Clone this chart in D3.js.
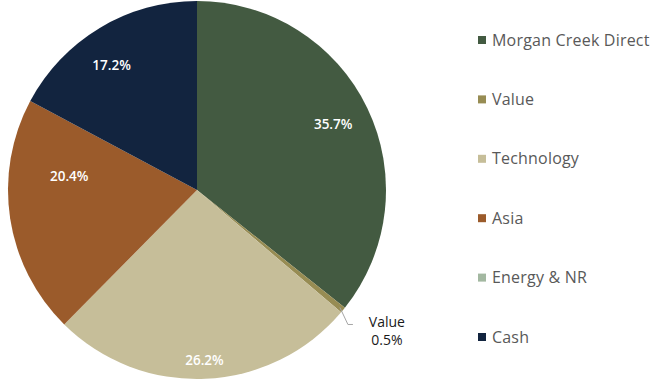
<!DOCTYPE html>
<html>
<head>
<meta charset="utf-8">
<script src="https://cdn.jsdelivr.net/npm/d3@7"></script>
<style>
  body { margin: 0; background: #fff; }
  text { font-family: "Open Sans", Lato, sans-serif; }
</style>
</head>
<body>
<div id="viz"></div>
<script>
const categories = ["Morgan Creek Direct", "Value", "Technology", "Asia", "Energy & NR", "Cash"];
const values = [35.7, 0.5, 26.2, 20.4, 0, 17.2];
const colors = ["#435a41", "#978c53", "#c6be99", "#9b5b2b", "#a3b8a1", "#12243f"];

const width = 665, height = 388;
const cx = 197, cy = 190, radius = 189;

const svg = d3.select("#viz").append("svg")
    .attr("width", width)
    .attr("height", height);

const data = categories.map((c, i) => ({ name: c, value: values[i], color: colors[i] }));

const pie = d3.pie().sort(null).value(d => d.value);
const arc = d3.arc().innerRadius(0).outerRadius(radius);
const arcs = pie(data);

const g = svg.append("g").attr("transform", `translate(${cx},${cy})`);

g.selectAll(".slice")
    .data(arcs.filter(d => d.data.value > 0))
    .join("path")
        .attr("class", "slice")
        .attr("d", arc)
        .attr("fill", d => d.data.color);

// label placement, roughly like excel's best fit
const labelRadius = { "Morgan Creek Direct": 0.8, "Technology": 0.9, "Asia": 0.68, "Cash": 0.8 };
const labelShift = { "Asia": 0.26, "Cash": -0.06 };

g.selectAll(".pct")
    .data(arcs.filter(d => d.data.value >= 1))
    .join("text")
        .attr("class", "pct")
        .attr("transform", d => {
            const a = (d.startAngle + d.endAngle) / 2 + (labelShift[d.data.name] || 0);
            const r = radius * (labelRadius[d.data.name] || 0.8);
            return `translate(${Math.sin(a) * r},${-Math.cos(a) * r})`;
        })
        .attr("text-anchor", "middle")
        .attr("dy", "0.35em")
        .attr("fill", "#fff")
        .style("font-size", "13.5px")
        .style("font-weight", 600)
        .text(d => d.data.value.toFixed(1) + "%");

// callout for the thin slice
const small = arcs.find(d => d.data.name === "Value");
const sa = (small.startAngle + small.endAngle) / 2;
const p0 = [Math.sin(sa) * (radius - 4), -Math.cos(sa) * (radius - 4)];
const p1 = [p0[0] + 8, p0[1] + 17];
const p2 = [p1[0] + 5, p1[1]];
g.append("polyline")
    .attr("points", [p0, p1, p2].map(p => p.join(",")).join(" "))
    .attr("fill", "none")
    .attr("stroke", "#a6a6a6")
    .attr("stroke-width", 1);

const callout = g.append("text")
    .attr("text-anchor", "middle")
    .attr("fill", "#1a1a1a")
    .style("font-size", "14px")
    .attr("transform", `translate(${p2[0] + 34},${p2[1] + 4})`);
callout.append("tspan").attr("x", 0).attr("dy", "-0.1em").text(small.data.name);
callout.append("tspan").attr("x", 0).attr("dy", "1.25em").text(small.data.value.toFixed(1) + "%");

// legend
const legendY = d3.scalePoint()
    .domain(categories)
    .range([40, 337]);

const legend = svg.selectAll(".legend")
    .data(data)
    .join("g")
        .attr("class", "legend")
        .attr("transform", d => `translate(478,${legendY(d.name)})`);

legend.append("rect")
    .attr("x", 0)
    .attr("y", -4)
    .attr("width", 8)
    .attr("height", 8)
    .attr("fill", d => d.color);

legend.append("text")
    .attr("x", 14)
    .attr("dy", "0.35em")
    .attr("fill", "#595959")
    .style("font-size", "16px")
    .style("letter-spacing", "0.2px")
    .text(d => d.name);
</script>
</body>
</html>
